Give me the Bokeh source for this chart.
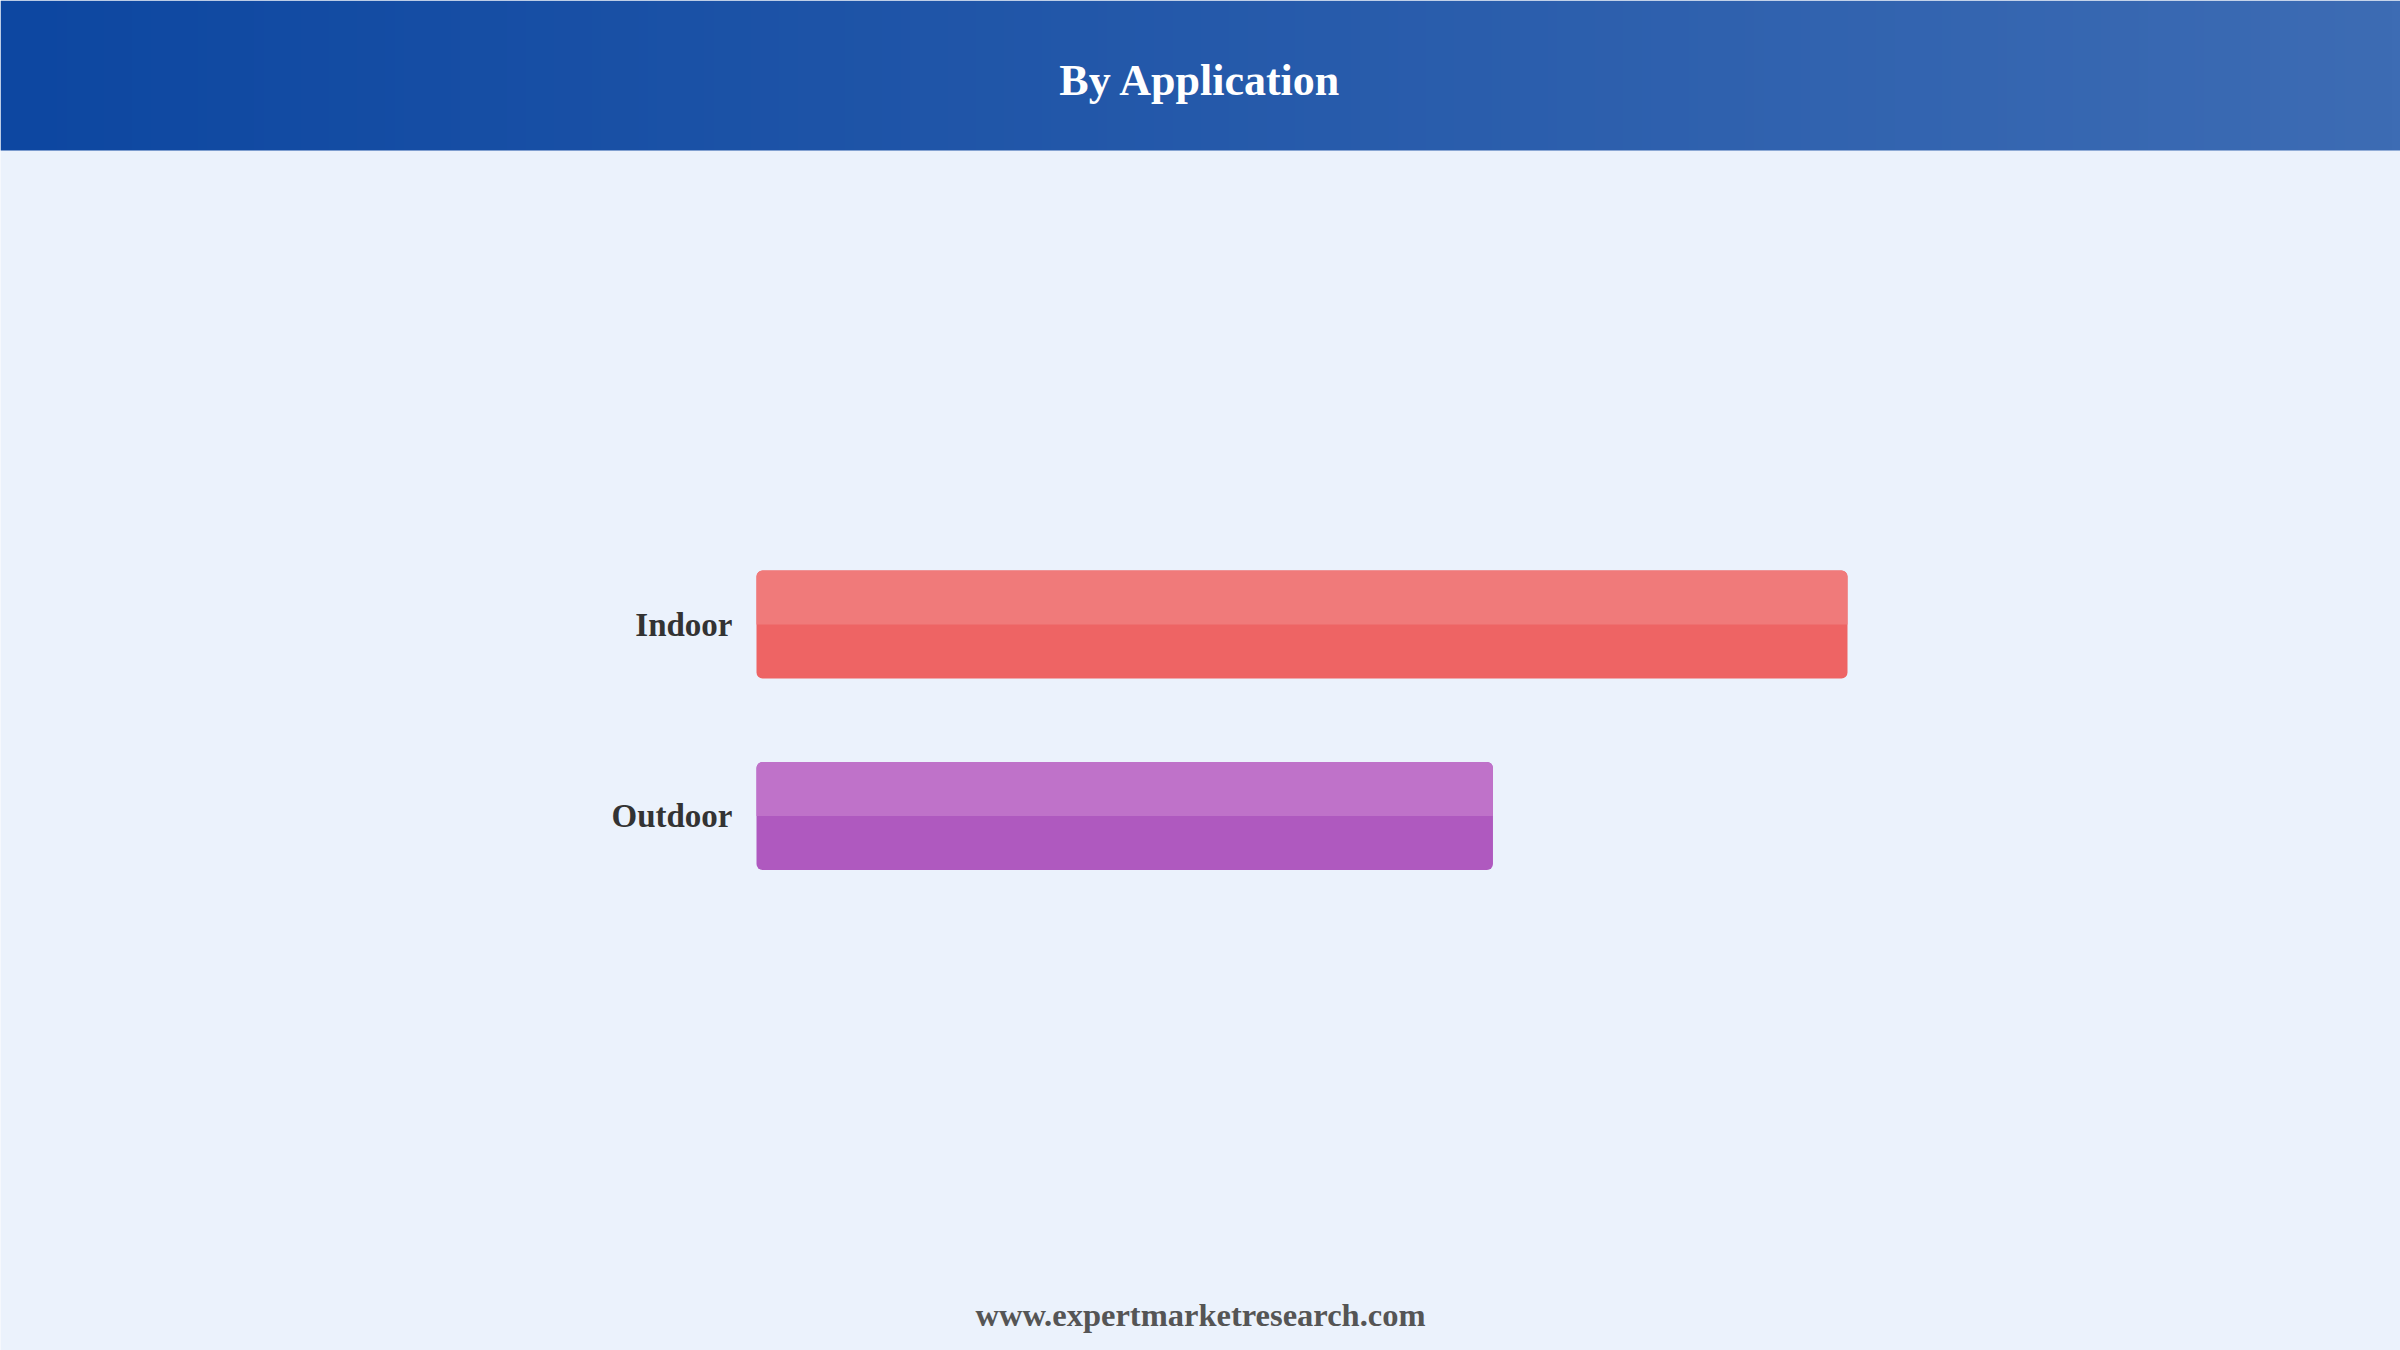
import numpy as np
from bokeh.plotting import figure
from bokeh.models import Range1d, ColumnDataSource
from bokeh.core.properties import value
from bokeh.embed import file_html
from bokeh.resources import INLINE

# ---- data ----
title_text = "By Application"
footer_text = "www.expertmarketresearch.com"
categories = ["Indoor", "Outdoor"]
shares = [59.7, 40.3]
base_colors = ["#EE6464", "#AF59BF"]
top_colors = ["#F07A7A", "#BF72C9"]

# ---- layout constants (pixels) ----
W, H = 2400, 1350
BG = "#EBF2FC"
SERIF = value("Liberation Serif")
bar_left_px, bar_right_px = 756, 1847      # extent of largest bar
first_center_px, row_px = 624, 191.5       # centre of first row from top, row pitch
bar_h_px = 108
hdr_h = 150

# positions of categories (first at top)
pos = [len(categories) - 1 - i for i in range(len(categories))]

s = (bar_right_px - bar_left_px) / max(shares)
x_start = -bar_left_px / s
x_end = max(shares) + (W - bar_right_px) / s
top_pos = max(pos)
y_end = top_pos + first_center_px / row_px
y_start = y_end - H / row_px

p = figure(width=W, height=H, output_backend="svg", toolbar_location=None,
           x_range=Range1d(x_start, x_end), y_range=Range1d(y_start, y_end),
           x_axis_location=None, y_axis_location=None, min_border=0)
p.extra_x_ranges = {"px": Range1d(0, W)}
p.extra_y_ranges = {"px": Range1d(0, H)}
p.background_fill_color = BG
p.border_fill_color = BG
p.outline_line_color = None
p.grid.visible = False

# ---- header gradient ----
c0 = np.array([13, 71, 161], dtype=float)
c1 = np.array([61, 108, 180], dtype=float)
n = 256
t = np.linspace(0, 1, n)[:, None]
cols = (c0 + (c1 - c0) * t).astype(np.uint8)
img = np.empty((1, n), dtype=np.uint32)
view = img.view(dtype=np.uint8).reshape((1, n, 4))
view[0, :, 0] = cols[:, 0]
view[0, :, 1] = cols[:, 1]
view[0, :, 2] = cols[:, 2]
view[0, :, 3] = 255
p.image_rgba(image=[img], x=0, y=H - hdr_h, dw=W, dh=hdr_h,
             x_range_name="px", y_range_name="px")
p.text(x=[W / 2], y=[H - 80], text=[title_text], text_font=SERIF,
       text_font_style="bold", text_font_size="44px", text_color="white",
       text_align="center", text_baseline="middle",
       x_range_name="px", y_range_name="px")

# ---- bars ----
bh = bar_h_px / row_px
src = ColumnDataSource(dict(cat=categories, pos=pos, val=shares,
                            pos_top=[v + bh / 4 for v in pos],
                            base=base_colors, top=top_colors))
p.hbar(y="pos", left=0, right="val", height=bh, fill_color="base",
       line_color=None, border_radius=6, source=src)
p.hbar(y="pos_top", left=0, right="val", height=bh / 2,
       fill_color="top", line_color=None, border_radius=(6, 6, 0, 0), source=src)

# category labels
p.text(x=0, y="pos", text="cat", source=src, x_offset=-24,
       text_font=SERIF, text_font_style="bold", text_font_size="33px",
       text_color="#333333", text_align="right", text_baseline="middle")

# ---- footer ----
p.text(x=[W / 2], y=[H - 1314], text=[footer_text], text_font=SERIF,
       text_font_style="bold", text_font_size="32.5px", text_color="#555555",
       text_align="center", text_baseline="alphabetic",
       x_range_name="px", y_range_name="px")

open("out.html", "w").write(file_html(p, INLINE))
